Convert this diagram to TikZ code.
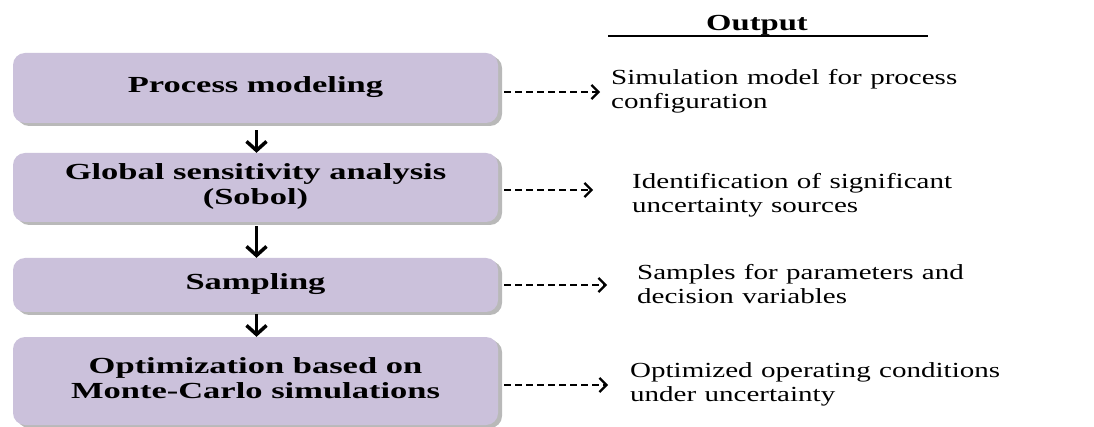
\documentclass[tikz,border=0pt]{standalone}
\usepackage{fontspec}
\setmainfont{Liberation Serif}
\usetikzlibrary{arrows.meta,shadows,calc}
\definecolor{boxfill}{RGB}{203,193,219}
\tikzset{
  stage/.style={draw=none, fill=boxfill, rounded corners=12pt, minimum width=485pt, inner sep=0pt,
    drop shadow={shadow xshift=4pt, shadow yshift=-3pt, fill=black!50, opacity=0.55}},
  flowarrow/.style={line width=3.5pt, -{Straight Barb[length=9pt,width=20pt,line width=3.5pt]}},
  outarrow/.style={line width=2pt, dash pattern=on 7pt off 4pt, -{Straight Barb[length=7pt,width=14pt,line width=2.2pt]}},
  outtext/.style={anchor=west, inner sep=0pt, align=left},
}
\newcommand{\bxt}[1]{\scalebox{1.5}[1]{\fontsize{23}{25}\selectfont\bfseries\begin{tabular}{@{}c@{}}#1\end{tabular}}}
\newcommand{\otx}[1]{\scalebox{1.35}[1]{\fontsize{21.5}{24}\selectfont\spaceskip=0.29em plus 0.1em\begin{tabular}{@{}l@{}}#1\end{tabular}}}
\begin{document}
\begin{tikzpicture}[x=1pt,y=-1pt]
\useasboundingbox (0,0) rectangle (1094,427);
\node[stage, minimum height=70pt] (b1) at (255.5,88) {\bxt{Process modeling}};
\node[stage, minimum height=69pt] (b2) at (255.5,187.5) {\bxt{Global sensitivity analysis\\(Sobol)}};
\node[stage, minimum height=54pt] (b3) at (255.5,285) {\bxt{Sampling}};
\node[stage, minimum height=88pt] (b4) at (255.5,381) {\bxt{Optimization based on\\Monte-Carlo simulations}};

\draw[flowarrow] ($(b1.south)+(1,7)$) -- ($(b2.north)+(1,0)$);
\draw[flowarrow] ($(b2.south)+(1,4)$) -- ($(b3.north)+(1,0)$);
\draw[flowarrow] ($(b3.south)+(1,2)$) -- ($(b4.north)+(1,0)$);

\node[anchor=base, inner sep=0pt] (head) at (757,31) {\scalebox{1.42}[1]{\fontsize{23}{25}\selectfont\bfseries Output}};
\coordinate (hl) at (608,36);
\coordinate (hr) at (928,36);
\draw[line width=1.2pt] (hl) -- (hr);

\node[outtext] (t1) at (611,91.5) {\otx{Simulation model for process\\configuration}};
\node[outtext] (t2) at (632,195.5) {\otx{Identification of significant\\uncertainty sources}};
\node[outtext] (t3) at (637,286.5) {\otx{Samples for parameters and\\decision variables}};
\node[outtext] (t4) at (630,385) {\otx{Optimized operating conditions\\under uncertainty}};

\coordinate (e1) at (600,92);
\coordinate (e2) at (593,190);
\coordinate (e3) at (607,285);
\coordinate (e4) at (608,385);
\draw[outarrow] (b1.east |- e1) ++(6,0) -- (e1);
\draw[outarrow] (b2.east |- e2) ++(6,0) -- (e2);
\draw[outarrow] (b3.east |- e3) ++(6,0) -- (e3);
\draw[outarrow] (b4.east |- e4) ++(6,0) -- (e4);
\end{tikzpicture}
\end{document}
